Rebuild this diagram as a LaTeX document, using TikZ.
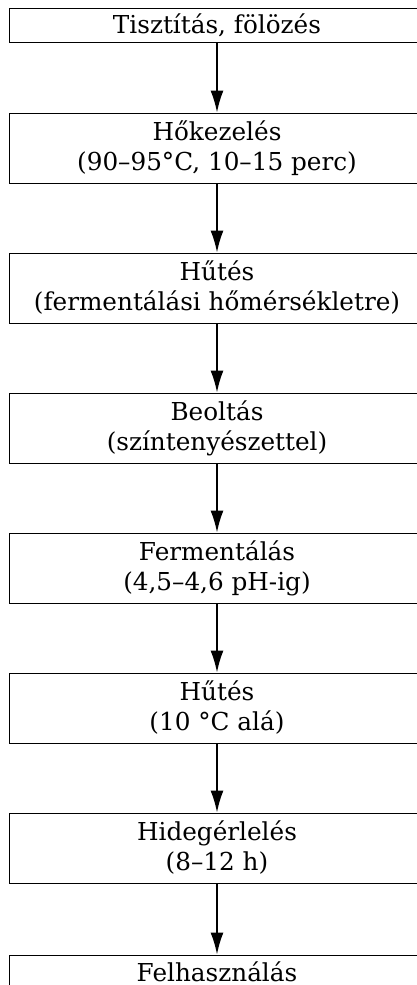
\documentclass[tikz,border=0pt]{standalone}
\usepackage{fontspec}
\setmainfont{DejaVu Serif}
\usetikzlibrary{arrows.meta,positioning}

\begin{document}
\begin{tikzpicture}[x=1pt,y=1pt,align=center,
	lepes/.style={draw,line width=0.9pt,minimum width=416pt,minimum height=70pt,inner sep=0pt,font=\fontsize{24.7}{30}\selectfont},
	nyil/.style={-{Latex[length=22pt,width=13pt]},line width=1.8pt}]
	\useasboundingbox (0,0) rectangle (416,-985);
	% lepesek fentrol lefele
	\draw (217,-25) node[lepes,minimum height=34pt](tiszt){Tisztítás, fölözés};
	\draw (217,-148) node[lepes](hokez){Hőkezelés\\(90–95°C, 10–15 perc)};
	\draw (217,-288) node[lepes](hut1){Hűtés\\(fermentálási hőmérsékletre)};
	\draw (217,-428) node[lepes](beolt){Beoltás\\(színtenyészettel)};
	\draw (217,-568) node[lepes](ferm){Fermentálás\\(4,5–4,6 pH-ig)};
	\draw (217,-708) node[lepes](hut2){Hűtés\\(10 °C alá)};
	\draw (217,-848) node[lepes](hideg){Hidegérlelés\\(8–12 h)};
	\draw (217,-972) node[lepes,minimum height=34pt](felh){Felhasználás};
	% nyilak
	\draw[nyil](tiszt.south) -- (hokez.north);
	\draw[nyil](hokez.south) -- (hut1.north);
	\draw[nyil](hut1.south) -- (beolt.north);
	\draw[nyil](beolt.south) -- (ferm.north);
	\draw[nyil](ferm.south) -- (hut2.north);
	\draw[nyil](hut2.south) -- (hideg.north);
	\draw[nyil](hideg.south) -- (felh.north);
\end{tikzpicture}
\end{document}
